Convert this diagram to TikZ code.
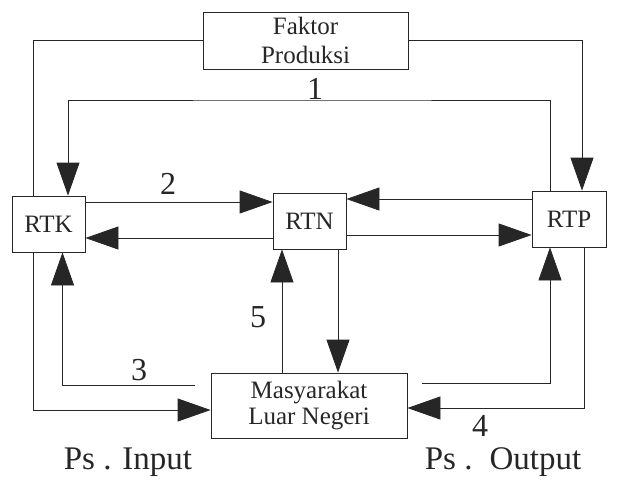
\documentclass[tikz,border=0pt]{standalone}
\usepackage{fontspec}
\setmainfont{Liberation Serif}
\usetikzlibrary{arrows.meta}

\begin{document}
\begin{tikzpicture}[x=1pt, y=-1pt, line width=0.8pt, black!85,
  >={Triangle[length=33pt,width=23pt]},
  box/.style={draw, align=center, inner sep=0pt, font=\fontsize{25}{29}\selectfont},
  num/.style={font=\fontsize{32}{36}\selectfont},
  pasar/.style={font=\fontsize{33}{38}\selectfont}]

\path[use as bounding box] (0,0) rectangle (618,480);

% Boxes
\node[box, minimum width=205pt, minimum height=57pt] (fp) at (305.5,40.5) {Faktor\\Produksi};
\node[box, minimum width=73pt, minimum height=56pt] (rtk) at (48.5,224) {RTK};
\node[box, minimum width=73pt, minimum height=56pt] (rtn) at (309.5,221) {RTN};
\node[box, minimum width=74pt, minimum height=56pt] (rtp) at (569,219) {RTP};
\node[box, minimum width=196pt, minimum height=65pt, font=\fontsize{25}{26}\selectfont] (masy) at (309,405.5) {Masyarakat\\Luar Negeri};

% Bend points
\coordinate (top1) at (315,100);
\coordinate (in3) at (195,385);
\coordinate (out4) at (422,383);

% Faktor produksi to RTK and RTP
\draw (fp.west) -| ([xshift=-15.5pt]rtk.north);
\draw[->] (fp.east) -| ([xshift=13pt]rtp.north);

% Flow 1
\draw[->] ([xshift=-19pt]rtp.north) |- (top1) -| ([xshift=19.5pt]rtk.north);
\node[num, anchor=south, inner sep=0.5pt] (n1) at (top1) {1};

% Flow 2 (between RTK, RTN and RTP)
\draw[->] (rtk.east |- 0,202) -- (rtn.west |- 0,202);
\draw[->] (rtn.west |- 0,238) -- (rtk.east |- 0,238);
\draw[->] (rtp.west |- 0,199) -- (rtn.east |- 0,199);
\draw[->] (rtn.east |- 0,235) -- (rtp.west |- 0,235);
\node[num] (n2) at (168,184) {2};

% Flow 3 (Ps. Input)
\draw[->] ([xshift=-15.5pt]rtk.south) |- (masy.west |- 0,410);
\draw[->] (in3) -| ([xshift=14pt]rtk.south);
\node[num] (n3) at (139,370) {3};

% Flow 5
\draw[->] (masy.north -| 282,0) -- (rtn.south -| 282,0);
\draw[->] (rtn.south -| 338,0) -- (masy.north -| 338,0);
\node[num] (n5) at (258,317) {5};

% Flow 4 (Ps. Output)
\draw[->] ([xshift=15pt]rtp.south) |- (masy.east |- 0,408);
\draw[->] (out4) -| ([xshift=-19pt]rtp.south);
\node[num] (n4) at (480,426) {4};

% Markets
\node[pasar] (input) at (128,462) {Ps . Input};
\node[pasar] (output) at (503,462) {Ps .\hspace{6pt} Output};

\end{tikzpicture}
\end{document}
